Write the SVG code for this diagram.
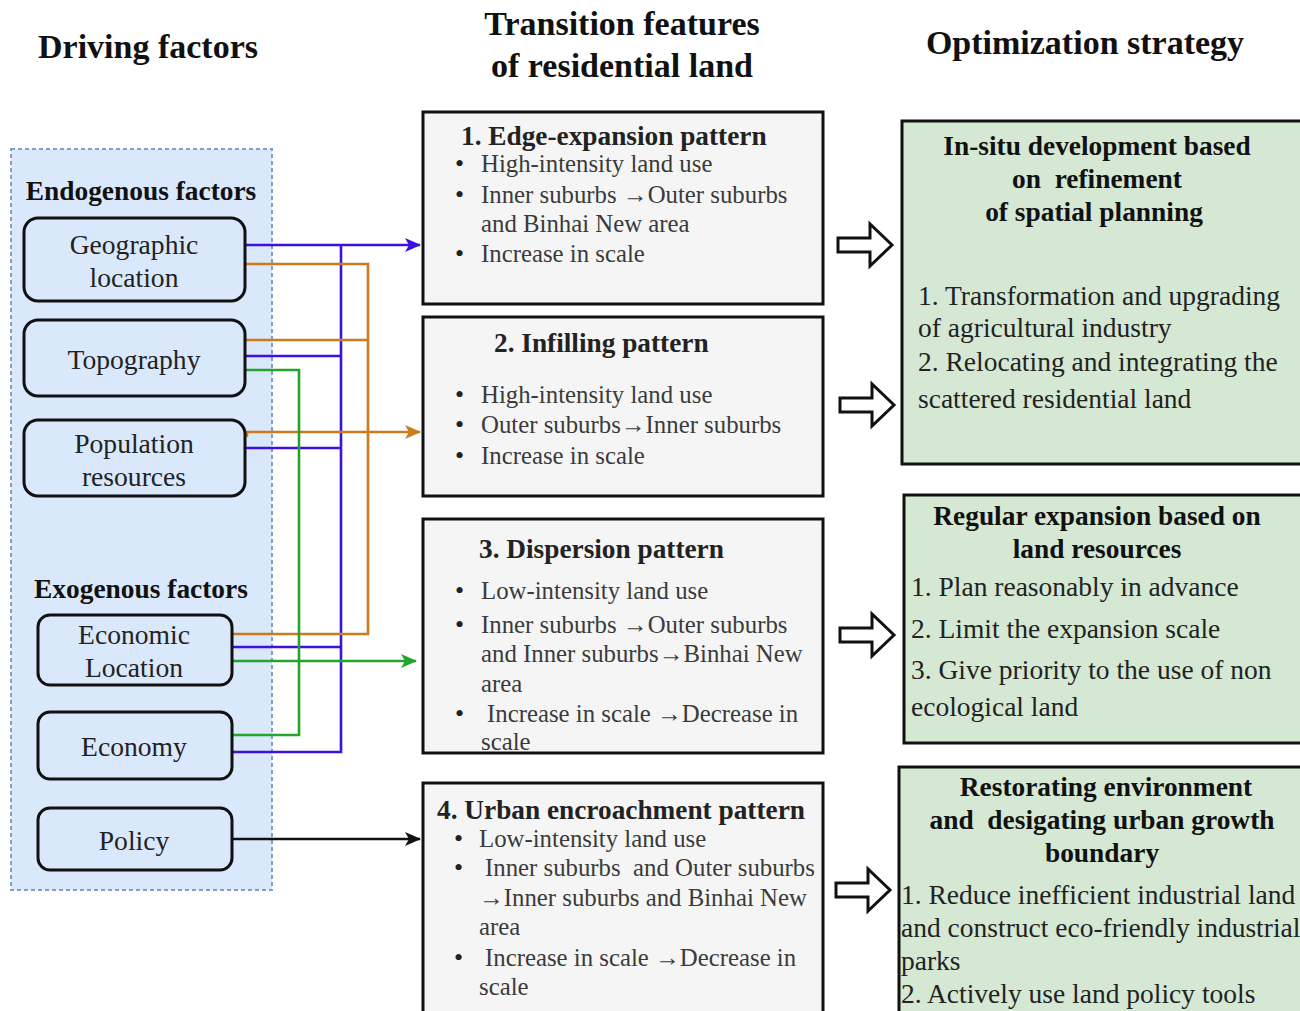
<svg xmlns="http://www.w3.org/2000/svg" width="1300" height="1011" viewBox="0 0 1300 1011">
<defs>
<style>
.hdr{font-family:"Liberation Serif","Times New Roman",serif;font-weight:bold;font-size:34px;fill:#111;text-anchor:middle}
.grp{font-family:"Liberation Serif","Times New Roman",serif;font-weight:bold;font-size:27.4px;fill:#111;text-anchor:middle}
.fac{fill:#dae8fc;stroke:#111;stroke-width:3}
.ft{font-family:"Liberation Serif","Times New Roman",serif;font-size:27.6px;fill:#222;text-anchor:middle}
.mid{fill:#f5f5f5;stroke:#111;stroke-width:3}
.mt{font-family:"Liberation Serif","Times New Roman",serif;font-weight:bold;font-size:27.3px;fill:#222}
.bt{font-family:"Liberation Serif","Times New Roman",serif;font-size:24.8px;fill:#3a3a3a}
.bu{font-family:"Liberation Serif","Times New Roman",serif;font-size:26px;fill:#222}
.rb{fill:#d5e8d4;stroke:#111;stroke-width:3}
.rt{font-family:"Liberation Serif","Times New Roman",serif;font-weight:bold;font-size:27.4px;fill:#111;text-anchor:middle}
.rx{font-family:"Liberation Serif","Times New Roman",serif;font-size:27.5px;fill:#222}
.c{fill:none;stroke-width:2.6}
.blue{stroke:#3b10e0}
.orange{stroke:#cc7a1c}
.green{stroke:#22a52a}
.black{stroke:#111}
.harrow{fill:#fff;stroke:#111;stroke-width:3;stroke-linejoin:miter}
</style>
<marker id="mb" viewBox="0 0 16 14" refX="15" refY="7" markerWidth="16" markerHeight="14" markerUnits="userSpaceOnUse" orient="auto"><path d="M0,0 L16,7 L0,14 L4,7 Z" fill="#3b10e0"/></marker>
<marker id="mo" viewBox="0 0 16 14" refX="15" refY="7" markerWidth="16" markerHeight="14" markerUnits="userSpaceOnUse" orient="auto"><path d="M0,0 L16,7 L0,14 L4,7 Z" fill="#cc7a1c"/></marker>
<marker id="mg" viewBox="0 0 16 14" refX="15" refY="7" markerWidth="16" markerHeight="14" markerUnits="userSpaceOnUse" orient="auto"><path d="M0,0 L16,7 L0,14 L4,7 Z" fill="#22a52a"/></marker>
<marker id="mk" viewBox="0 0 16 14" refX="15" refY="7" markerWidth="16" markerHeight="14" markerUnits="userSpaceOnUse" orient="auto"><path d="M0,0 L16,7 L0,14 L4,7 Z" fill="#111"/></marker>
<path id="ha" d="M0,-7 L32,-7 L32,-21 L54,0 L32,21 L32,7 L0,7 Z"/>
</defs>
<rect width="1300" height="1011" fill="#fff"/>

<g id="headers">
<text class="hdr" x="148" y="58">Driving factors</text>
<text class="hdr" x="622" y="35">Transition features</text>
<text class="hdr" x="622" y="77">of residential land</text>
<text class="hdr" x="1085" y="54">Optimization strategy</text>
</g>

<g id="driving-panel">
<rect x="11" y="149" width="261" height="741" fill="#dae8fc" stroke="#7f9fcf" stroke-width="2" stroke-dasharray="4,3"/>
<text class="grp" x="141" y="200">Endogenous factors</text>
<text class="grp" x="141" y="598">Exogenous factors</text>
</g>

<g id="connectors">
<path class="c blue" d="M245,245 H420" marker-end="url(#mb)"/>
<path class="c blue" d="M341,245 V752 H232"/>
<path class="c blue" d="M245,356 H341"/>
<path class="c blue" d="M245,448 H341"/>
<path class="c blue" d="M232,647 H341"/>
<path class="c orange" d="M245,264 H368 V634 H232"/>
<path class="c orange" d="M245,340 H368"/>
<path class="c orange" d="M247,437 V432 H420" marker-end="url(#mo)"/>
<path class="c green" d="M245,370 H299 V735 H232"/>
<path class="c green" d="M232,661 H416" marker-end="url(#mg)"/>
<path class="c black" d="M232,839 H420" marker-end="url(#mk)"/>
<use href="#ha" class="harrow" x="838" y="245"/>
<use href="#ha" class="harrow" x="840" y="405"/>
<use href="#ha" class="harrow" x="840" y="635"/>
<use href="#ha" class="harrow" x="836" y="890"/>
</g>

<g id="geographic-location">
<rect class="fac" x="24" y="218" width="221" height="83" rx="14"/>
<text class="ft" x="134" y="254">Geographic</text>
<text class="ft" x="134" y="287">location</text>
</g>
<g id="topography">
<rect class="fac" x="24" y="320" width="221" height="76" rx="14"/>
<text class="ft" x="134" y="369">Topography</text>
</g>
<g id="population-resources">
<rect class="fac" x="24" y="420" width="221" height="76" rx="14"/>
<text class="ft" x="134" y="453">Population</text>
<text class="ft" x="134" y="486">resources</text>
</g>
<g id="economic-location">
<rect class="fac" x="38" y="615" width="194" height="70" rx="12"/>
<text class="ft" x="134" y="644">Economic</text>
<text class="ft" x="134" y="677">Location</text>
</g>
<g id="economy">
<rect class="fac" x="38" y="712" width="194" height="67" rx="12"/>
<text class="ft" x="134" y="756">Economy</text>
</g>
<g id="policy">
<rect class="fac" x="38" y="808" width="194" height="62" rx="12"/>
<text class="ft" x="134" y="850">Policy</text>
</g>

<g id="edge-expansion">
<rect class="mid" x="423" y="112" width="400" height="192"/>
<text class="mt" x="461" y="145">1. Edge-expansion pattern</text>
<text class="bu" x="455" y="172">•</text><text class="bt" x="481" y="172">High-intensity land use</text>
<text class="bu" x="455" y="203">•</text><text class="bt" x="481" y="203">Inner suburbs →Outer suburbs</text>
<text class="bt" x="481" y="232">and Binhai New area</text>
<text class="bu" x="455" y="262">•</text><text class="bt" x="481" y="262">Increase in scale</text>
</g>
<g id="infilling">
<rect class="mid" x="423" y="317" width="400" height="179"/>
<text class="mt" x="494" y="352">2. Infilling pattern</text>
<text class="bu" x="455" y="403">•</text><text class="bt" x="481" y="403">High-intensity land use</text>
<text class="bu" x="455" y="433">•</text><text class="bt" x="481" y="433">Outer suburbs→Inner suburbs</text>
<text class="bu" x="455" y="464">•</text><text class="bt" x="481" y="464">Increase in scale</text>
</g>
<g id="dispersion">
<rect class="mid" x="423" y="519" width="400" height="234"/>
<text class="mt" x="479" y="558">3. Dispersion pattern</text>
<text class="bu" x="455" y="599">•</text><text class="bt" x="481" y="599">Low-intensity land use</text>
<text class="bu" x="455" y="633">•</text><text class="bt" x="481" y="633">Inner suburbs →Outer suburbs</text>
<text class="bt" x="481" y="662">and Inner suburbs→Binhai New</text>
<text class="bt" x="481" y="692">area</text>
<text class="bu" x="455" y="722">•</text><text class="bt" x="487" y="722">Increase in scale →Decrease in</text>
<text class="bt" x="481" y="750">scale</text>
</g>
<g id="urban-encroachment">
<rect class="mid" x="423" y="783" width="400" height="240"/>
<text class="mt" x="437" y="819">4. Urban encroachment pattern</text>
<text class="bu" x="454" y="847">•</text><text class="bt" x="479" y="847">Low-intensity land use</text>
<text class="bu" x="454" y="876">•</text><text class="bt" x="485" y="876" xml:space="preserve">Inner suburbs  and Outer suburbs</text>
<text class="bt" x="479" y="906">→Inner suburbs and Binhai New</text>
<text class="bt" x="479" y="935">area</text>
<text class="bu" x="454" y="966">•</text><text class="bt" x="485" y="966">Increase in scale →Decrease in</text>
<text class="bt" x="479" y="995">scale</text>
</g>

<g id="in-situ">
<rect class="rb" x="902" y="121" width="410" height="343"/>
<text class="rt" x="1097" y="155">In-situ development based</text>
<text class="rt" x="1097" y="188" xml:space="preserve">on  refinement</text>
<text class="rt" x="1094" y="221">of spatial planning</text>
<text class="rx" x="918" y="305">1. Transformation and upgrading</text>
<text class="rx" x="918" y="337">of agricultural industry</text>
<text class="rx" x="918" y="371">2. Relocating and integrating the</text>
<text class="rx" x="918" y="408">scattered residential land</text>
</g>
<g id="regular-expansion">
<rect class="rb" x="904" y="495" width="410" height="248"/>
<text class="rt" x="1097" y="525">Regular expansion based on</text>
<text class="rt" x="1097" y="558">land resources</text>
<text class="rx" x="911" y="596">1. Plan reasonably in advance</text>
<text class="rx" x="911" y="638">2. Limit the expansion scale</text>
<text class="rx" x="911" y="679">3. Give priority to the use of non</text>
<text class="rx" x="911" y="716">ecological land</text>
</g>
<g id="restorating">
<rect class="rb" x="899" y="767" width="415" height="260"/>
<text class="rt" x="1106" y="796">Restorating environment</text>
<text class="rt" x="1102" y="829" xml:space="preserve">and  desigating urban growth</text>
<text class="rt" x="1102" y="862">boundary</text>
<text class="rx" x="901" y="904">1. Reduce inefficient industrial land</text>
<text class="rx" x="901" y="937">and construct eco-friendly industrial</text>
<text class="rx" x="901" y="970">parks</text>
<text class="rx" x="901" y="1003">2. Actively use land policy tools</text>
</g>
</svg>
